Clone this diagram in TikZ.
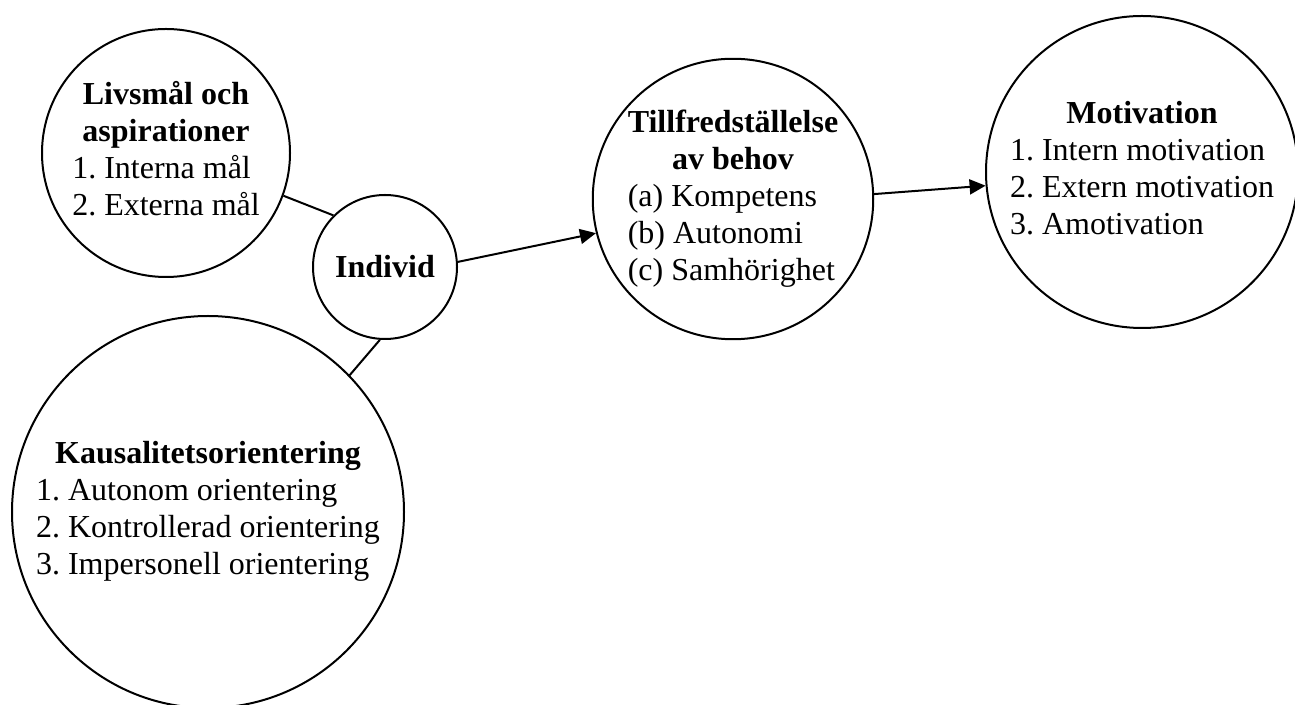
\documentclass[tikz,border=0pt]{standalone}
\usepackage{fontspec}
\setmainfont{Liberation Serif}
\usetikzlibrary{arrows.meta}
\frenchspacing

\begin{document}
\begin{tikzpicture}[x=1pt, y=1pt,
  font=\fontsize{32}{37}\selectfont,
  bubble/.style={draw, circle, inner sep=0pt, align=center},
  >={Triangle[length=16pt, width=15pt]}, line width=2pt]
\useasboundingbox (0,0) rectangle (1295,704);
\node[bubble, minimum size=248pt] (lm) at (166,551) {\begin{tabular}{@{}l@{}}
  \multicolumn{1}{@{}c@{}}{\textbf{Livsmål och}}\\
  \multicolumn{1}{@{}c@{}}{\textbf{aspirationer}}\\
  1. Interna mål\\
  2. Externa mål
\end{tabular}};
\node[bubble, minimum size=144pt] (ind) at (385,437) {\textbf{Individ}};
\node[bubble, minimum size=392pt] (ko) at (208,192) {\begin{tabular}{@{}l@{}}
  \multicolumn{1}{@{}c@{}}{\textbf{Kausalitetsorientering}}\\
  1. Autonom orientering\\
  2. Kontrollerad orientering\\
  3. Impersonell orientering
\end{tabular}};
\node[bubble, minimum size=278pt] (tb) at (733,505) {\begin{tabular}{@{}l@{}}
  \multicolumn{1}{@{}c@{}}{\textbf{Tillfredställelse}}\\
  \multicolumn{1}{@{}c@{}}{\textbf{av behov}}\\
  (a) Kompetens\\
  (b) Autonomi\\
  (c) Samhörighet
\end{tabular}};
\node[bubble, minimum size=312pt] (mo) at (1142,532) {\begin{tabular}{@{}l@{}}
  \multicolumn{1}{@{}c@{}}{\textbf{Motivation}}\\
  1. Intern motivation\\
  2. Extern motivation\\
  3. Amotivation
\end{tabular}};
\draw (lm.340) -- (ind.135);
\draw (ind.266) -- (ko.44);
\draw[->] (ind.4) -- (tb.194);
\draw[->] (tb.2) -- (mo.185);
\end{tikzpicture}
\end{document}
